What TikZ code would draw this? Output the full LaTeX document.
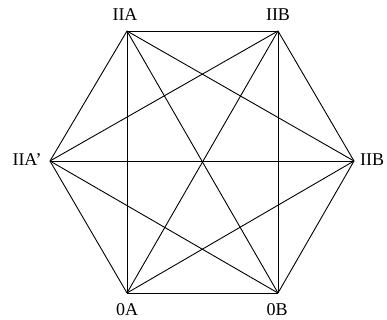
\documentclass[tikz,border=0pt]{standalone}
\usepackage{fontspec}
\setmainfont{Liberation Serif}
\usetikzlibrary{positioning, calc}

\begin{document}
\begin{tikzpicture}[x=1pt, y=-1pt, line width=0.9pt, line join=round]
    % Frame
    \useasboundingbox (0,0) rectangle (387,320);
    
    % Vertices of the hexagon
    \coordinate (v1) at (127,31);
    \coordinate (v2) at (278,31);
    \coordinate (v3) at (354,161);
    \coordinate (v4) at (278,293);
    \coordinate (v5) at (127,293);
    \coordinate (v6) at (50,161);
    
    % Every vertex joined to every other
    \foreach \i in {1,...,5} {
        \pgfmathtruncatemacro\k{\i+1}
        \foreach \j in {\k,...,6}
            \draw (v\i) -- (v\j);
    }
    
    % Labels
    \begin{scope}[font=\fontsize{18}{20}\selectfont, inner sep=0pt]
        \node (lIIA) at (125,15) {IIA};
        \node (lIIB) at (278,15) {IIB};
        \node (lIIBr) at (372,160) {IIB};
        \node (lIIAp) at (27,160) {IIA’};
        \node (l0A) at (127,310) {0A};
        \node (l0B) at (277,310) {0B};
    \end{scope}
\end{tikzpicture}
\end{document}
